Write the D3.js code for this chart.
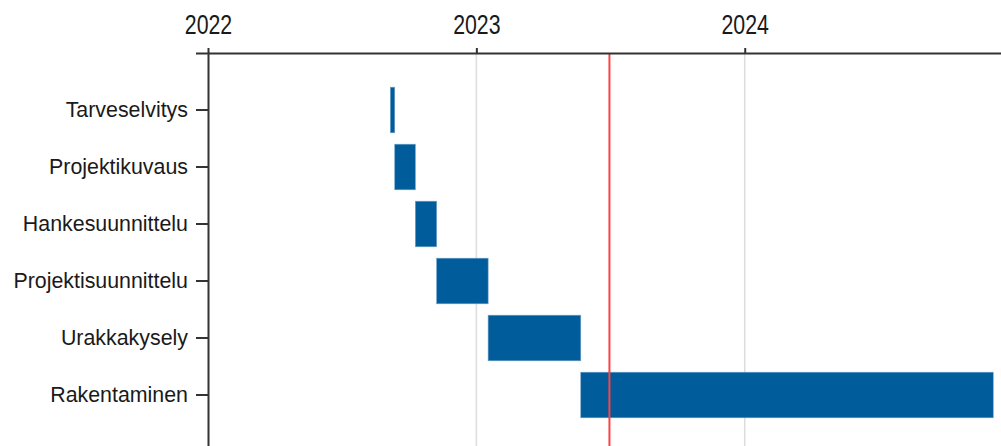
<!DOCTYPE html>
<html>
<head>
<meta charset="utf-8">
<script src="https://cdn.jsdelivr.net/npm/d3@7"></script>
<style>
  body { margin: 0; background: #fff; }
  .axis text { font-family: "Liberation Sans", Arial, sans-serif; fill: #1a1a1a; }
</style>
</head>
<body>
<div id="chart"></div>
<script>
// Project phases (Finnish) with start / end dates
var tasks = ["Tarveselvitys", "Projektikuvaus", "Hankesuunnittelu", "Projektisuunnittelu", "Urakkakysely", "Rakentaminen"];
var starts = ["2022-09-06", "2022-09-12", "2022-10-10", "2022-11-08", "2023-01-17", "2023-05-23"];
var ends = ["2022-09-12", "2022-10-10", "2022-11-08", "2023-01-17", "2023-05-23", "2024-12-04"];
var yearTicks = ["2022", "2023", "2024"];
var today = "2023-07-01";

var svgWidth = 1001;
var svgHeight = 446;

var margin = { top: 53, left: 208 };

// the original text is a bit squeezed sideways
var labelSquash = 0.93;
var yearSquash = 0.79;

var parse = d3.timeParse("%Y-%m-%d");
var rows = tasks.map(function(t, i) {
  return { task: t, start: parse(starts[i]), end: parse(ends[i]) };
});

var svg = d3.select("#chart")
  .append("svg")
  .attr("width", svgWidth)
  .attr("height", svgHeight);

var chartGroup = svg.append("g")
  .attr("transform", `translate(${margin.left}, ${margin.top})`);

// x: time, range runs slightly past the right edge of the window
var xScale = d3.scaleTime()
  .domain([parse("2022-01-01"), parse("2024-12-20")])
  .range([0, 797]);

var yScale = d3.scaleBand()
  .domain(tasks)
  .range([0, 399])
  .paddingInner(0.2)
  .paddingOuter(0.6);

var tickDates = yearTicks.map(function(y) { return parse(y + "-01-01"); });

// gridlines
chartGroup.selectAll(".grid")
  .data(tickDates.slice(1))
  .enter()
  .append("line")
  .attr("class", "grid")
  .attr("x1", d => xScale(d))
  .attr("x2", d => xScale(d))
  .attr("y1", 0)
  .attr("y2", svgHeight)
  .attr("stroke", "#dcdcdc")
  .attr("stroke-width", 1.5);

// bars
chartGroup.selectAll(".bar")
  .data(rows)
  .enter()
  .append("rect")
  .attr("class", "bar")
  .attr("x", d => xScale(d.start))
  .attr("y", d => yScale(d.task))
  .attr("width", d => xScale(d.end) - xScale(d.start))
  .attr("height", yScale.bandwidth())
  .attr("fill", "#015c9b")
  .attr("stroke", "#6f9fc7")
  .attr("stroke-width", 0.6);

// today line
chartGroup.append("line")
  .attr("x1", xScale(parse(today)))
  .attr("x2", xScale(parse(today)))
  .attr("y1", 0)
  .attr("y2", svgHeight)
  .attr("stroke", "#ff4242")
  .attr("stroke-width", 2);

// axes
var topAxis = d3.axisTop(xScale)
  .tickValues(tickDates)
  .tickFormat(d3.timeFormat("%Y"))
  .tickSizeInner(5)
  .tickSizeOuter(0)
  .tickPadding(14);

var leftAxis = d3.axisLeft(yScale)
  .tickSize(12)
  .tickPadding(8);

var gx = chartGroup.append("g")
  .attr("class", "axis")
  .call(topAxis);

gx.selectAll("text")
  .attr("font-size", "27px")
  .attr("transform", `scale(${yearSquash},1)`);

var gy = chartGroup.append("g")
  .attr("class", "axis")
  .call(leftAxis);

gy.selectAll("text")
  .attr("font-size", "23px")
  .attr("x", -20 / labelSquash)
  .attr("transform", `scale(${labelSquash},1)`);

svg.selectAll(".axis path, .axis line")
  .attr("stroke", "#333")
  .attr("stroke-width", 2);
</script>
</body>
</html>
